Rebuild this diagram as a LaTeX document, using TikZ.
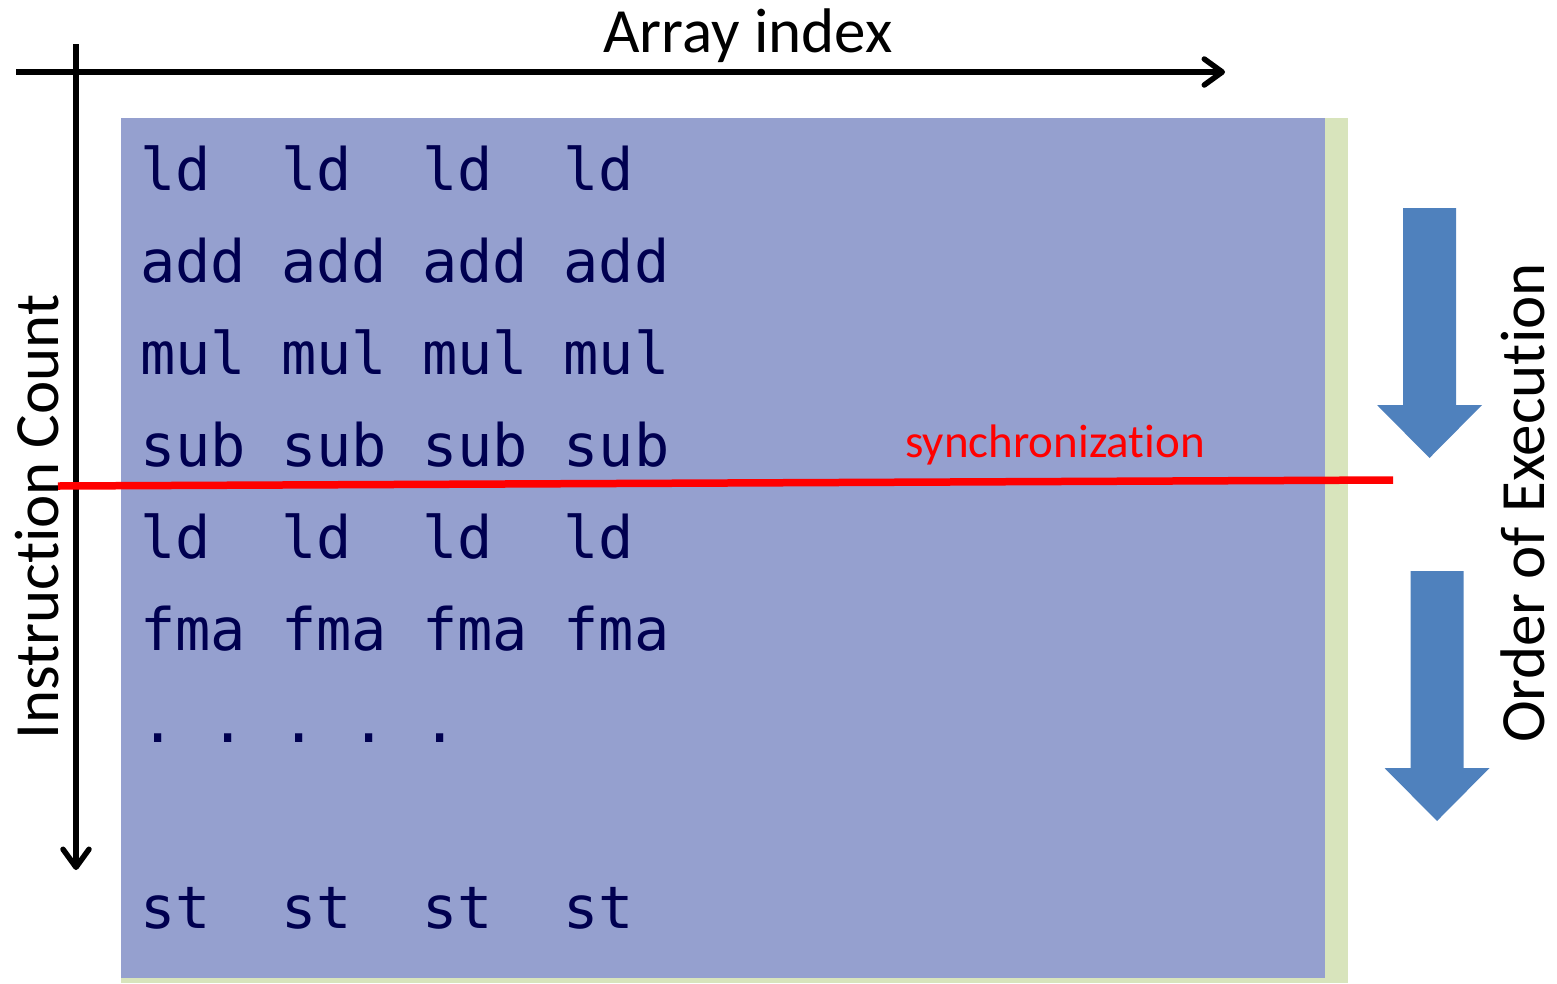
\documentclass[tikz,border=0pt]{standalone}
\usepackage{fontspec}
\setmainfont{Carlito}[Ligatures=NoCommon]
\newfontfamily\codefont{DejaVu Sans Mono}
\usetikzlibrary{arrows.meta}
\definecolor{blockblue}{RGB}{149,160,207}
\definecolor{stripgreen}{RGB}{216,228,188}
\definecolor{codenavy}{RGB}{0,0,80}
\definecolor{execblue}{RGB}{79,129,189}

\begin{document}
\begin{tikzpicture}
[x=1pt,y=-1pt]
\tikzstyle{axis}=[line width=5.5pt,-{Straight Barb[length=18pt,width=26pt,round]}]
\tikzstyle{label}=[inner sep=0,font=\fontsize{63}{70}\selectfont]
\tikzstyle{code}=[inner sep=0,anchor=base west,text=codenavy,font=\codefont\fontsize{58.6}{64}\selectfont]
\tikzstyle{exec arrow}=[fill=execblue]

\useasboundingbox (0,0) rectangle (1557,983);

% the block of instructions
\fill[stripgreen] (121,118) rectangle (1348,983);
\fill[blockblue] (121,118) rectangle (1325,978);

\foreach \y/\ops [count=\i] in {190/ld~~ld~~ld~~ld, 282/add add add add,
    374/mul mul mul mul, 466/sub sub sub sub, 558/ld~~ld~~ld~~ld,
    650/fma fma fma fma, 742/.~.~.~.~., 928/st~~st~~st~~st}
  \node(row\i)[code]at(140,\y){\ops};

% axes
\coordinate(hstart)at(16,72);
\coordinate(hend)at(1225,72);
\coordinate(vstart)at(76,44);
\coordinate(vend)at(76,870);
\draw[axis](hstart)--(hend);
\draw[axis](vstart)--(vend);

\node(arrayidx)[label,anchor=base]at(748,52){Array index};
\node(instcount)[label,anchor=base,rotate=90]at(58,517){Instruction Count};
\node(order)[label,anchor=base,rotate=90]at(1544,503){Order of Execution};

% synchronization
\coordinate(syncl)at(58,486);
\coordinate(syncr)at(1393,480);
\draw[red,line width=7.5pt](syncl)--(syncr);
\node(sync)[inner sep=0,anchor=base west,text=red,font=\fontsize{47}{52}\selectfont]at(905,457){synchronization};

% order of execution arrows
\foreach \ax/\ay in {1429.5/208,1437/571}
  \fill[exec arrow](\ax-26.5,\ay)--++(53,0)--++(0,197)--++(26,0)
    --++(-52.5,53)--++(-52.5,-53)--++(26,0)--cycle;
\end{tikzpicture}
\end{document}
